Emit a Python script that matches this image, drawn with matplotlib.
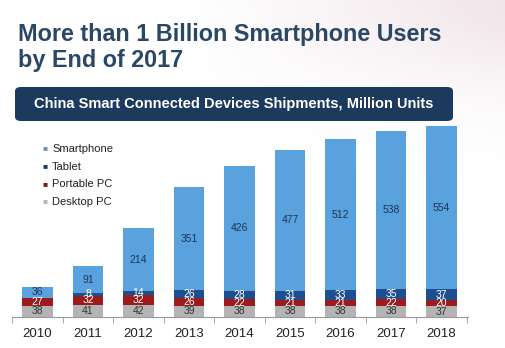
import matplotlib.pyplot as plt
import numpy as np
from matplotlib.patches import FancyBboxPatch

plt.rcParams['font.family'] = ['Liberation Sans', 'DejaVu Sans']

years = ["2010", "2011", "2012", "2013", "2014", "2015", "2016", "2017", "2018"]
desktop = [38, 41, 42, 39, 38, 38, 38, 38, 37]
portable = [27, 32, 32, 26, 22, 21, 21, 22, 20]
tablet = [1, 8, 14, 26, 28, 31, 33, 35, 37]
smartphone = [36, 91, 214, 351, 426, 477, 512, 538, 554]

series = [
    ("Desktop PC", desktop, "#b4b4b4", "#333333", "#b8b8b8"),
    ("Portable PC", portable, "#9b1b1e", "white", "#7a1a1a"),
    ("Tablet", tablet, "#1d4f8f", "white", "#1d3d5a"),
    ("Smartphone", smartphone, "#5aa2de", "#1b3558", "#7090b8"),
]

fig = plt.figure(figsize=(5.06, 3.48), dpi=100)
fig.patch.set_facecolor("white")

# faint swoosh in the top right corner, fading out smoothly
gx, gy = np.meshgrid(np.linspace(0, 1, 300), np.linspace(0, 1, 300))
haze = np.clip(gx * 1.6 - 0.6, 0, 1) * np.exp(-(gy / 0.25) ** 2)
rgba = np.zeros((300, 300, 4))
rgba[..., 0] = 0.85
rgba[..., 1] = 0.72
rgba[..., 2] = 0.76
rgba[..., 3] = haze * 0.35
bg = fig.add_axes([0, 0, 1, 1], zorder=-1)
bg.imshow(rgba, aspect="auto", extent=(0, 1, 0, 1), origin="upper")
bg.axis("off")

fig.text(18 / 506, 1 - 35 / 348, "More than 1 Billion Smartphone Users",
         fontsize=16.8, fontweight="bold", color="#2b4766", va="center")
fig.text(18 / 506, 1 - 61 / 348, "by End of 2017",
         fontsize=16.8, fontweight="bold", color="#2b4766", va="center")

banner = FancyBboxPatch((15 / 506, 1 - 121 / 348), 438 / 506, 34 / 348,
                        boxstyle="round,pad=0,rounding_size=0.012",
                        transform=fig.transFigure, facecolor="#1c3a5e",
                        edgecolor="none")
fig.patches.append(banner)
fig.text(234 / 506, 1 - 104 / 348,
         "China Smart Connected Devices Shipments, Million Units",
         fontsize=10.5, fontweight="bold", color="white", ha="center", va="center")

ax = fig.add_axes([12 / 506, 31 / 348, 456 / 506, 197 / 348])
x = np.arange(len(years))
bottom = np.zeros(len(years))
handles = {}
for name, vals, col, tcol, lcol in series:
    vals = np.array(vals)
    ax.bar(x, vals, 0.61, bottom=bottom, color=col, edgecolor="none")
    handles[name] = lcol
    for xi, b, v in zip(x, bottom, vals):
        if v >= 5:
            ax.text(xi, b + v / 2, str(v), ha="center", va="center",
                    fontsize=7.5, color=tcol)
    bottom = bottom + vals

ax.set_xlim(-0.505, 8.525)
ax.set_ylim(0, 670)
ax.set_xticks(x)
ax.set_xticklabels(years, fontsize=9.5, color="#222222")
ax.tick_params(axis="x", length=0, pad=8)
ax.set_xticks(np.arange(-0.5, 9, 1), minor=True)
ax.tick_params(axis="x", which="minor", length=4, color="#999999", direction="out")
ax.set_yticks([])
for s in ["top", "right", "left"]:
    ax.spines[s].set_visible(False)
ax.spines["bottom"].set_color("#999999")
ax.spines["bottom"].set_linewidth(0.8)
ax.patch.set_alpha(0)

# legend entries, smartphone first
for i, name in enumerate(["Smartphone", "Tablet", "Portable PC", "Desktop PC"]):
    ypx = 149 + i * 17.7
    fig.text(43 / 506, 1 - ypx / 348, "\u25a0", fontsize=6, color=handles[name],
             va="center")
    fig.text(52 / 506, 1 - ypx / 348, name, fontsize=8, color="#222222",
             va="center")

fig.savefig("out.png", dpi=100)
